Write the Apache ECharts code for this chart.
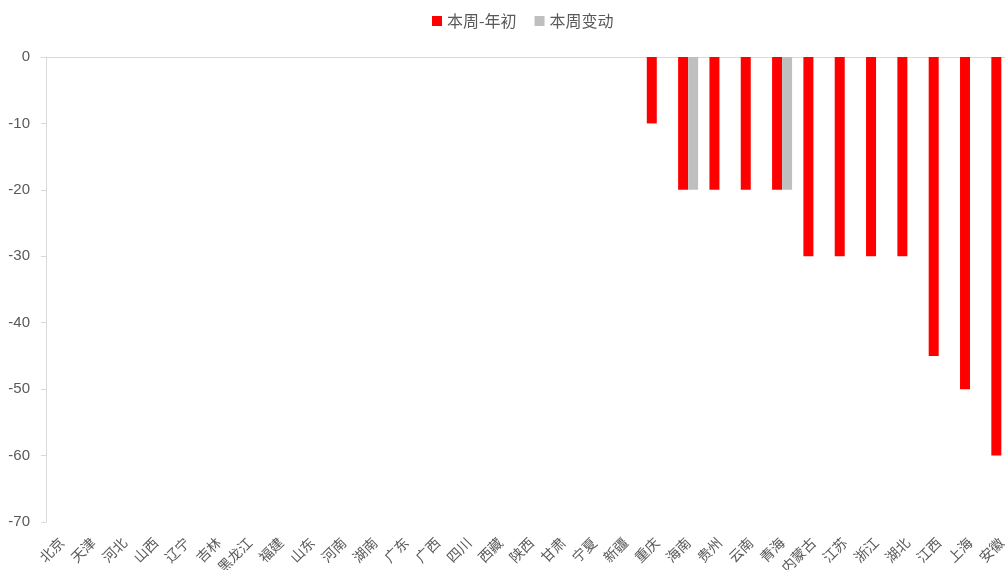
<!DOCTYPE html>
<html>
<head>
<meta charset="utf-8">
<script src="https://cdn.jsdelivr.net/npm/echarts@6/dist/echarts.min.js"></script>
<style>html,body{margin:0;padding:0;background:#fff}#c{width:1005px;height:570px}</style>
</head>
<body>
<div id="c"></div>
<script>
const categories = ['北京','天津','河北','山西','辽宁','吉林','黑龙江','福建','山东','河南','湖南','广东','广西','四川','西藏','陕西','甘肃','宁夏','新疆','重庆','海南','贵州','云南','青海','内蒙古','江苏','浙江','湖北','江西','上海','安徽'];
const sinceYearStart = [0,0,0,0,0,0,0,0,0,0,0,0,0,0,0,0,0,0,0,-10,-20,-20,-20,-20,-30,-30,-30,-30,-45,-50,-60];
const weeklyChange = [0,0,0,0,0,0,0,0,0,0,0,0,0,0,0,0,0,0,0,0,-20,0,0,-20,0,0,0,0,0,0,0];
const seriesNames = ['本周-年初','本周变动'];

const chart = echarts.init(document.getElementById('c'));
const axisColor = '#d9d9d9';
const textColor = '#595959';
chart.setOption({
  animation: false,
  legend: {
    top: 8, left: 427,
    icon: 'rect', itemWidth: 10, itemHeight: 10, itemGap: 18,
    textStyle: {fontSize: 16, color: textColor, fontFamily: 'Noto Sans CJK SC'},
    data: seriesNames
  },
  grid: {left: 46, top: 57, right: -12, bottom: 48, containLabel: false, outerBoundsMode: 'none'},
  xAxis: [{
    type: 'category', data: categories, position: 'bottom',
    axisLine: {show: false, onZero: false}, axisTick: {show: false},
    axisLabel: {rotate: 45, margin: 18, interval: 0, fontSize: 14, color: textColor, fontFamily: 'Noto Sans CJK SC'}
  }, {
    type: 'category', data: categories, position: 'top',
    axisLine: {show: true, onZero: false, lineStyle: {color: axisColor, width: 1}},
    axisTick: {show: false}, axisLabel: {show: false}
  }],
  yAxis: {
    type: 'value', min: -70, max: 0, interval: 10,
    axisLine: {show: true, lineStyle: {color: axisColor}},
    axisTick: {show: true, length: 5, lineStyle: {color: axisColor}},
    splitLine: {show: false},
    axisLabel: {fontSize: 15, color: textColor, margin: 16, fontFamily: 'Liberation Sans'}
  },
  series: [{
    name: seriesNames[0], type: 'bar', data: sinceYearStart,
    barWidth: 10, barGap: '0%', itemStyle: {color: '#ff0000'}
  }, {
    name: seriesNames[1], type: 'bar', data: weeklyChange,
    barWidth: 10, barGap: '0%', itemStyle: {color: '#bfbfbf'}
  }]
});
</script>
</body>
</html>
